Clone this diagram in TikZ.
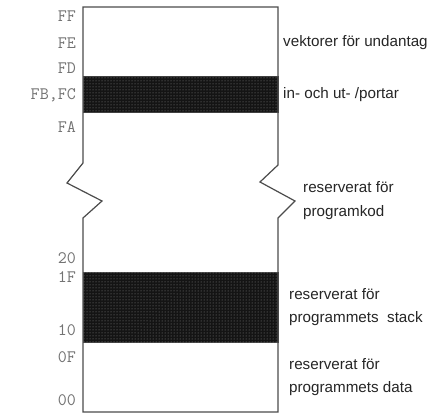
\documentclass[tikz,border=0pt]{standalone}
\usepackage{fontspec}
\setmainfont{Liberation Sans}
\usetikzlibrary{patterns}
\tikzset{
  addr/.style={anchor=east,inner sep=0pt,text=black!55,font=\ttfamily\fontsize{17.5}{17.5}\selectfont},
  desc/.style={anchor=west,inner sep=0pt,align=left,text=black!85,font=\fontsize{15.2}{23.5}\selectfont},
  band/.style={fill=black!92,postaction={pattern=dots,pattern color=black!45},draw=black!75,line width=1pt},
  wall/.style={draw=black!70,line width=1.2pt,line join=miter}
}
\begin{document}
\begin{tikzpicture}[x=1pt,y=-1pt]
\useasboundingbox (0,0) rectangle (441,414);
\fill[white] (0,0) rectangle (441,414);
\draw[band] (83,77) rectangle (278,113);
\draw[band] (83,272) rectangle (278,342);
\draw[wall] (83,7) -- (278,7) -- (278,165) -- (260,182) -- (295,201) -- (278,218) -- (278,412) -- (83,412) -- (83,218) -- (102,201) -- (67,183) -- (83,163) -- cycle;
\node[addr] (ff) at (76,16) {FF};
\node[addr] (fe) at (76,43) {FE};
\node[addr] (fd) at (76,68) {FD};
\node[addr] (fbfc) at (76,95) {FB,FC};
\node[addr] (fa) at (76,127) {FA};
\node[addr] (a20) at (76,258) {20};
\node[addr] (a1f) at (76,277) {1F};
\node[addr] (a10) at (76,330) {10};
\node[addr] (a0f) at (76,357) {0F};
\node[addr] (a00) at (76,400) {00};
\node[desc] (vekt) at (283,43) {vektorer för undantag};
\node[desc] (port) at (283,95) {in- och ut- /portar};
\node[desc] (kod) at (303,200.5) {reserverat för\\programkod};
\node[desc] (stack) at (289,307) {reserverat för\\programmets~~stack};
\node[desc] (data) at (289,377) {reserverat för\\programmets data};
\end{tikzpicture}
\end{document}
